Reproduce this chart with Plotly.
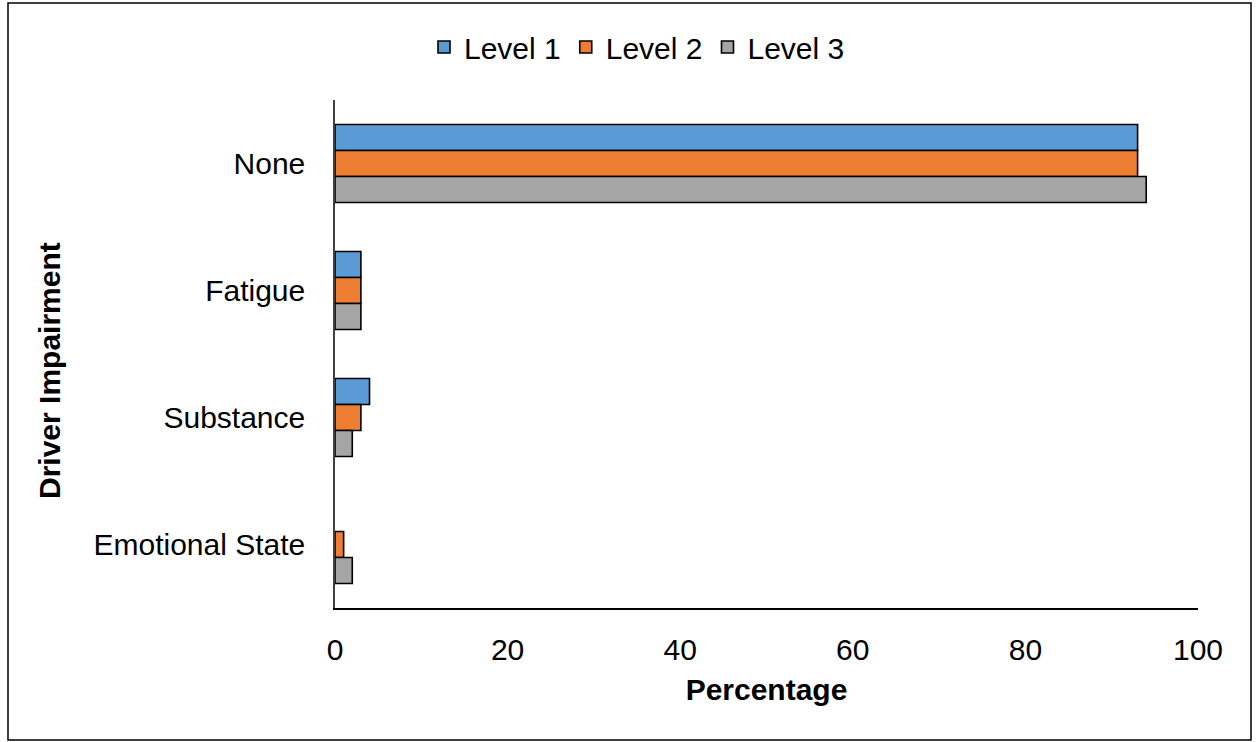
import plotly.graph_objects as go

# Driver impairment categories (top to bottom) and share of crashes per severity level
categories = ["None", "Fatigue", "Substance", "Emotional State"]
level_names = ["Level 1", "Level 2", "Level 3"]
level_1 = [93, 3, 4, 0]
level_2 = [93, 3, 3, 1]
level_3 = [94, 3, 2, 2]
x_ticks = [0, 20, 40, 60, 80, 100]

colors = ["#5B9BD5", "#ED7D31", "#A5A5A5"]
FONT = "Liberation Sans, Arial, sans-serif"

W, H = 1257, 742
ML, MR, MT, MB = 335, 59, 100, 134
PW, PH = W - ML - MR, H - MT - MB


def px_x(p):
    return (p - ML) / PW


def px_y(p):
    return (H - MB - p) / PH


fig = go.Figure()
for name, vals, col in zip(level_names, [level_1, level_2, level_3], colors):
    # no outline on empty bars so a zero value leaves no stub
    outline = [1.6 if v > 0 else 0 for v in vals]
    fig.add_trace(go.Bar(
        name=name, y=categories, x=vals, orientation="h",
        marker=dict(color=col, line=dict(color="black", width=outline)),
    ))

fig.update_layout(
    width=W, height=H,
    margin=dict(l=ML, r=MR, t=MT, b=MB),
    paper_bgcolor="white", plot_bgcolor="white",
    barmode="group", bargap=0.386, bargroupgap=0,
    font=dict(family=FONT, size=30, color="black"),
    showlegend=True,
    legend=dict(
        orientation="h", x=px_x(637), xanchor="center",
        y=px_y(47), yanchor="middle",
        font=dict(size=30), itemwidth=30, tracegroupgap=0,
        bgcolor="rgba(0,0,0,0)",
    ),
    xaxis=dict(
        range=[0, 100], tickvals=x_ticks, ticks="", showgrid=False,
        zeroline=False, showline=True, linecolor="black", linewidth=1.5,
        tickfont=dict(size=30), ticklabelstandoff=14,
        title=dict(text="<b>Percentage</b>", font=dict(size=30), standoff=14),
    ),
    yaxis=dict(
        autorange="reversed", ticks="", showgrid=False, zeroline=False,
        showline=True, linecolor="#404040", linewidth=1.5,
        layer="above traces",
        tickfont=dict(size=30), ticklabelstandoff=22,
    ),
    annotations=[dict(
        text="<b>Driver Impairment</b>", textangle=-90,
        x=px_x(50), y=px_y(371), xref="paper", yref="paper",
        xanchor="center", yanchor="middle", showarrow=False,
        font=dict(size=30, family=FONT),
    )],
    shapes=[dict(
        type="rect", xref="paper", yref="paper",
        x0=px_x(8), x1=px_x(1251), y0=px_y(740), y1=px_y(3),
        line=dict(color="black", width=1.5), fillcolor="rgba(0,0,0,0)",
    )],
)

fig.write_html("out.html")
